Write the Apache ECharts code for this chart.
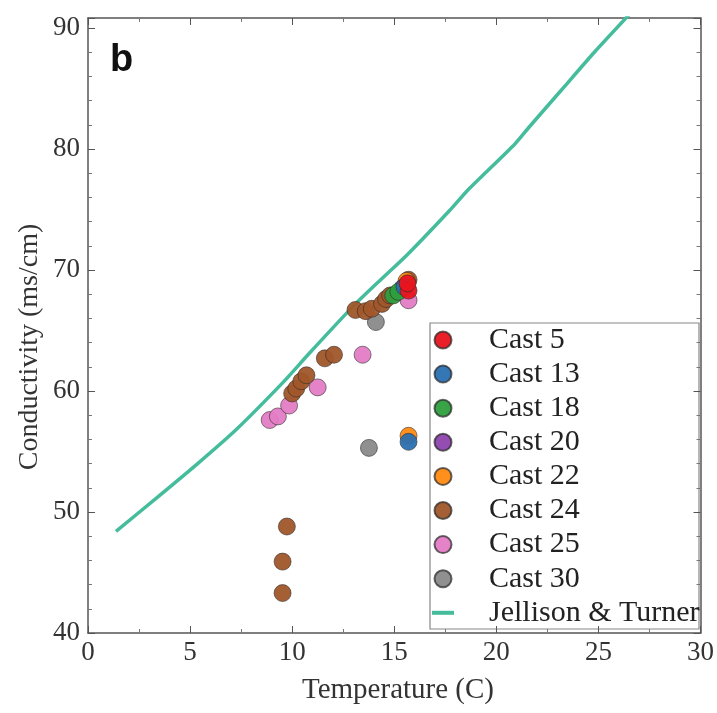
<!DOCTYPE html>
<html><head><meta charset="utf-8">
<script src="https://cdn.jsdelivr.net/npm/echarts@6.0.0/dist/echarts.min.js"></script>
<style>html,body{margin:0;padding:0;background:#fff}#c{width:717px;height:713px}</style>
</head><body><div id="c"></div>
<script>
// ---- data ----
const xMin = 0, xMax = 30, xStep = 5;
const yMin = 40, yMax = 90.83, yStep = 10;

// Jellison & Turner reference curve (Temperature, Conductivity)
const jtTemp = [1.37, 3.35, 5.3, 7.25, 9.6, 10.83, 13.1, 14.4, 15.6, 17.7, 18.6, 20.9, 21.6, 23.2, 24.8, 26.5];
const jtCond = [48.4, 51.15, 53.9, 56.8, 60.8, 63.1, 67.2, 69.3, 71.2, 74.9, 76.6, 80.4, 81.8, 84.9, 88.0, 91.1];

const cast5  = [[15.7, 68.3], [15.65, 68.9]];
const cast13 = [[15.7, 55.8], [15.5, 68.6]];
const cast18 = [[14.95, 67.9], [15.2, 68.2]];
const cast20 = [[15.4, 68.5]];
const cast22 = [[15.7, 56.3], [15.6, 69.1]];
const cast24 = [[9.53, 43.3], [9.53, 45.9], [9.74, 48.8], [10.0, 59.8], [10.2, 60.2], [10.45, 60.8], [10.7, 61.3],
                [11.6, 62.7], [12.05, 63.0], [13.1, 66.7], [13.6, 66.6], [13.9, 66.8], [14.4, 67.2], [14.6, 67.6],
                [14.8, 67.9], [15.7, 69.2]];
const cast25 = [[8.9, 57.6], [9.3, 57.9], [9.85, 58.8], [11.25, 60.3], [13.45, 63.0], [15.7, 67.5]];
const cast30 = [[13.76, 55.3], [14.1, 65.7]];

const legendOrder = ['Cast 5', 'Cast 13', 'Cast 18', 'Cast 20', 'Cast 22', 'Cast 24', 'Cast 25', 'Cast 30', 'Jellison & Turner'];
// drawing order (bottom to top)
const scatterSets = [
  ['Cast 30', cast30, '#8a8a8a'],
  ['Cast 25', cast25, '#e37cc4'],
  ['Cast 24', cast24, '#a0562a'],
  ['Cast 22', cast22, '#ff8a12'],
  ['Cast 20', cast20, '#8e44ad'],
  ['Cast 18', cast18, '#2e9e3e'],
  ['Cast 13', cast13, '#2a70b0'],
  ['Cast 5',  cast5,  '#e8141e']
];

const serif = 'Liberation Serif, Times New Roman, serif';
const chart = echarts.init(document.getElementById('c'), null, {renderer: 'canvas'});

const axisCommonX = {
  type: 'value', min: xMin, max: xMax, interval: xStep,
  axisLine: {show: true, onZero: false, lineStyle: {color: '#555', width: 1.5}},
  axisTick: {show: true, inside: true, length: 7, lineStyle: {color: '#555', width: 1}},
  minorTick: {show: true, splitNumber: 2, length: 4, lineStyle: {color: '#777'}},
  splitLine: {show: false}
};
const axisCommonY = {
  type: 'value', min: yMin, max: yMax, interval: yStep,
  axisLine: {show: true, onZero: false, lineStyle: {color: '#555', width: 1.5}},
  axisTick: {show: true, inside: true, length: 7, lineStyle: {color: '#555', width: 1}},
  minorTick: {show: true, splitNumber: 5, length: 4, lineStyle: {color: '#777'}},
  splitLine: {show: false}
};

const series = [{
  name: 'Jellison & Turner', type: 'line', xAxisIndex: 0, yAxisIndex: 0,
  data: jtTemp.map((t, i) => [t, jtCond[i]]),
  showSymbol: false, symbol: 'none', clip: true, smooth: 0.2,
  lineStyle: {color: '#45bd9c', width: 3.5},
  itemStyle: {color: '#45bd9c'}, z: 1
}];
scatterSets.forEach(([name, d, col]) => {
  series.push({
    name, type: 'scatter', xAxisIndex: 0, yAxisIndex: 0, data: d,
    symbol: 'circle', symbolSize: 17,
    itemStyle: {color: col, borderColor: 'rgba(40,40,40,0.75)', borderWidth: 0.8, opacity: 0.95}
  });
});

chart.setOption({
  animation: false,
  backgroundColor: '#fff',
  grid: {left: 88, right: 14, top: 18, bottom: 80, containLabel: false},
  xAxis: [
    Object.assign({}, axisCommonX, {position: 'bottom',
      axisLabel: {show: true, fontSize: 27, fontFamily: serif, color: '#333', margin: 6}}),
    Object.assign({}, axisCommonX, {position: 'top', axisLabel: {show: false}})
  ],
  yAxis: [
    Object.assign({}, axisCommonY, {position: 'left',
      axisLabel: {show: true, fontSize: 27, fontFamily: serif, color: '#333', margin: 8,
        formatter: v => (Math.abs(v % 10) < 1e-9 ? String(v) : '')}}),
    Object.assign({}, axisCommonY, {position: 'right', axisLabel: {show: false}})
  ],
  legend: {
    orient: 'vertical', left: 432, top: 323, padding: [2, 0, 0, 0],
    itemWidth: 22, itemHeight: 17, itemGap: 4.1,
    data: legendOrder.map(n => n === 'Jellison & Turner' ? {name: n, icon: 'path://M0,0H22V4H0Z'} : {name: n}),
    textStyle: {fontSize: 30, fontFamily: serif, color: '#222', lineHeight: 30, padding: [0, 0, 0, 30]},
    selectedMode: false
  },
  graphic: [
    {type: 'rect', shape: {x: 430, y: 323, width: 269, height: 306}, style: {fill: '#fff', stroke: '#888', lineWidth: 1.2}, z: -1},
    {type: 'text', left: 110, top: 42, style: {text: 'b', font: 'bold 38px "Liberation Sans", Arial, sans-serif', fill: '#111'}},
    {type: 'text', x: 398, y: 690, style: {text: 'Temperature (C)', font: '29px "Liberation Serif", serif', fill: '#333', align: 'center', verticalAlign: 'middle'}},
    {type: 'text', x: 30, y: 347, rotation: Math.PI / 2, style: {text: 'Conductivity (ms/cm)', font: '28px "Liberation Serif", serif', fill: '#333', align: 'center', verticalAlign: 'middle'}}
  ],
  series
});
</script>
</body></html>
